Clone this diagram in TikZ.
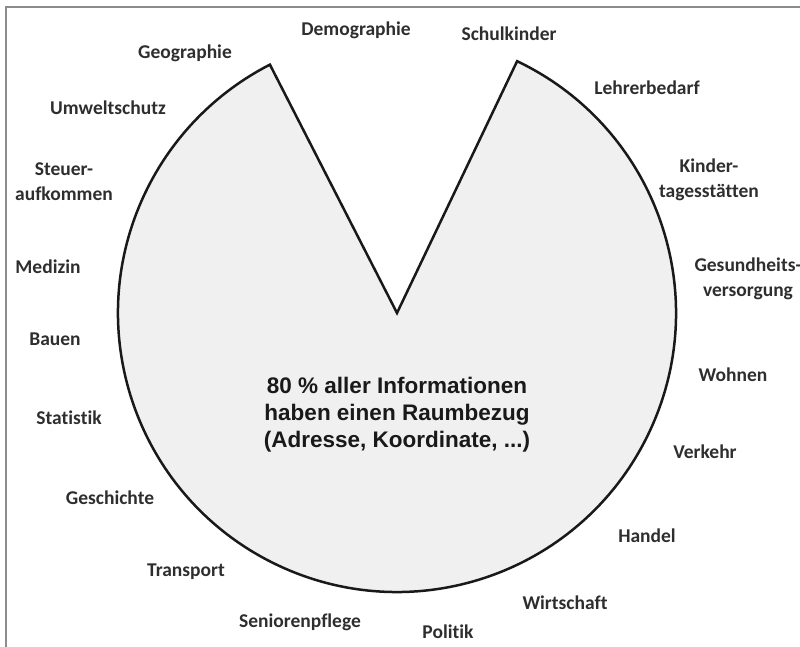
\documentclass[tikz,border=0pt]{standalone}
\usepackage{fontspec}
\setmainfont{Carlito}[Ligatures=NoCommon]
\newfontfamily\arialfont{Liberation Sans}
\definecolor{pief}{HTML}{F0F0F0}
\definecolor{lab}{HTML}{2E2E2E}
\definecolor{frame}{HTML}{8C8C8C}
\begin{document}
\begin{tikzpicture}[x=1pt,y=1pt,
  lbl/.style={font=\bfseries\fontsize{19.5}{25}\selectfont, text=lab, align=center, inner sep=0pt},
  piestyle/.style={draw=black!90, line width=2.5pt, fill=pief, line join=miter}]
\useasboundingbox (0,0) rectangle (800,647);
\draw[frame, line width=2.2pt] (800,640) -- (6,640) -- (6,0);
\coordinate (C) at (397,334);
\draw[piestyle] (C) -- ([shift={(C)}]64.5:279) arc[start angle=64.5, end angle=-242.9, radius=279] -- cycle;
\node[align=center, text=black!90, font=\arialfont\bfseries\fontsize{22.5}{27}\selectfont, inner sep=0pt] (main) at (397,232) {80 \% aller Informationen\\haben einen Raumbezug\\(Adresse, Koordinate, ...)};
\node[lbl] (demo) at (356,617) {Demographie};
\node[lbl] (geo) at (185,594) {Geographie};
\node[lbl] (umw) at (108,539) {Umweltschutz};
\node[lbl] (steu) at (64,465) {Steuer-\\aufkommen};
\node[lbl] (med) at (48,380) {Medizin};
\node[lbl] (bau) at (55,308) {Bauen};
\node[lbl] (stat) at (69,229) {Statistik};
\node[lbl] (gesch) at (110,149) {Geschichte};
\node[lbl] (trans) at (186,75) {Transport};
\node[lbl] (sen) at (300,25) {Seniorenpflege};
\node[lbl] (pol) at (448,15) {Politik};
\node[lbl] (wirt) at (565,44) {Wirtschaft};
\node[lbl] (han) at (647,111) {Handel};
\node[lbl] (verk) at (705,195) {Verkehr};
\node[lbl] (wohn) at (733,272) {Wohnen};
\node[lbl] (ges) at (748,368) {Gesundheits-\\versorgung};
\node[lbl] (kita) at (709,467) {Kinder-\\tagesstätten};
\node[lbl] (lehr) at (647,559) {Lehrerbedarf};
\node[lbl] (schul) at (509,613) {Schulkinder};
\end{tikzpicture}
\end{document}
